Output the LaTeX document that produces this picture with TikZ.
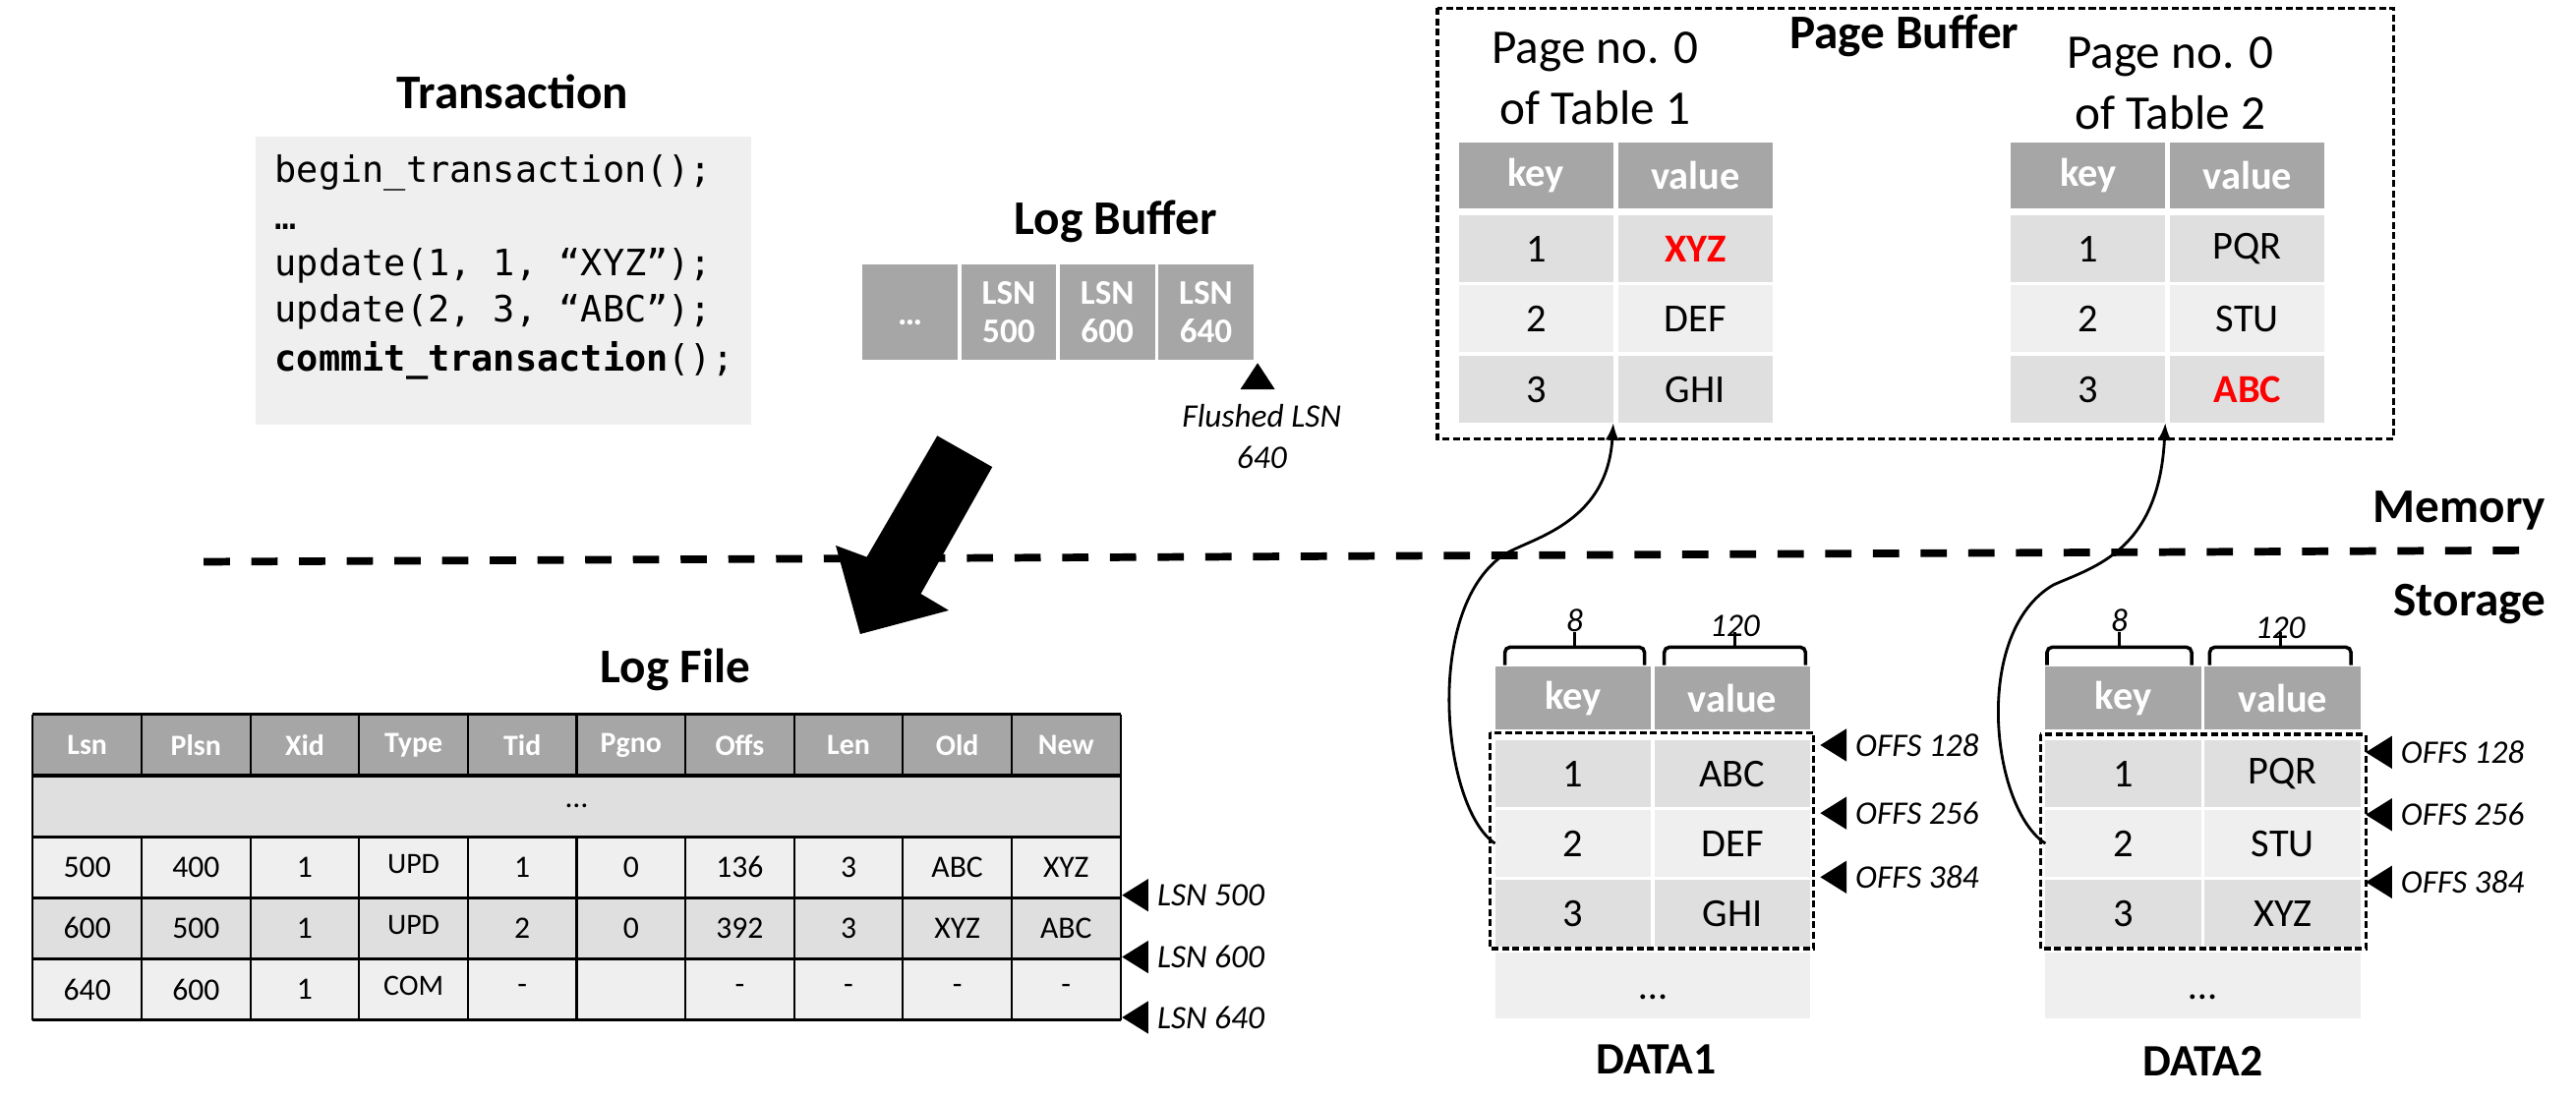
\documentclass[tikz,border=0pt]{standalone}
\usepackage{fontspec}
\setmainfont{Carlito}
\setmonofont{DejaVu Sans Mono}
\usepackage{xcolor}
\usetikzlibrary{arrows.meta}

\definecolor{hdrgray}{HTML}{A6A6A6}
\definecolor{rowdark}{HTML}{DFDFDF}
\definecolor{rowlite}{HTML}{EFEFEF}
\definecolor{hotred}{HTML}{FF0000}
\newcommand{\hotval}[1]{\textcolor{hotred}{\textbf{#1}}}
\newcommand{\typetag}[1]{\raisebox{2pt}{\fontsize{8.5}{10}\selectfont #1}}

\begin{document}
\begin{tikzpicture}[x=0.01671cm,y=-0.01671cm,
  ttl/.style={font=\bfseries\fontsize{14}{17}\selectfont},
  note/.style={inner sep=0pt,font=\itshape\fontsize{9.5}{11.9}\selectfont},
  codeline/.style={anchor=base west,inner sep=0pt,font=\ttfamily\fontsize{10.5}{12}\selectfont},
  tcell/.style={rectangle,inner sep=0pt,outer sep=0pt,font=\fontsize{11.5}{13}\selectfont},
  pgcell/.style={tcell,minimum width=1.571cm,minimum height=0.685cm},
  dtcell/.style={tcell,minimum width=1.587cm,minimum height=0.685cm},
  lgcell/.style={tcell,minimum width=1.106cm,minimum height=0.622cm,font=\fontsize{9}{11}\selectfont},
  hdr/.style={fill=hdrgray,text=white,font=\bfseries\fontsize{11.5}{13}\selectfont},
  lghdr/.style={fill=hdrgray,text=white,font=\bfseries\fontsize{8.5}{10}\selectfont},
  lbcell/.style={tcell,fill=hdrgray,text=white,minimum size=0.969cm,align=center,font=\bfseries\fontsize{10}{11}\selectfont},
  boxline/.style={line width=0.9pt,dash pattern=on 2pt off 1pt},
  link/.style={line width=0.8pt,-{Latex[length=5pt,width=4pt]}},
  ptr/.style={fill=black}]
\useasboundingbox (0,0) rectangle (1568,669);

\node[ttl] (txtitle) at (312,56) {Transaction};
\node[fill=rowlite,minimum width=5.046cm,minimum height=2.924cm,anchor=north west,inner sep=0pt] (txbox) at (155,83) {};
\node[codeline] (l1) at (167,111) {begin\_transaction();};
\node[codeline] (l2) at (167,140) {…};
\node[codeline] (l3) at (167,168) {update(1, 1, “XYZ”);};
\node[codeline] (l4) at (167,196) {update(2, 3, “ABC”);};
\node[codeline] (l5) at (167,226) {\textbf{commit\_transaction}();};

\node[ttl] (lbtitle) at (679,134.6) {Log Buffer};
\node[lbcell,text height=1.6ex,text depth=0pt] (lb0) at (554,190) {…};
\foreach \n [count=\i] in {500,600,640}
  \node[lbcell] (lb\i) at ({554+60*\i},190) {LSN\\\n};
\fill[ptr] (765.5,221) -- (776,237) -- (755,237) -- cycle;
\node[note,align=center] (flushed) at (768,265.5) {Flushed LSN\\640};

\fill (570.5,265.3) -- (604,284.3) -- (560.5,361.5) -- (577.5,371.6) -- (523.6,386) -- (508.7,332.1) -- (527.6,339.1) -- cycle;

\draw[line width=2.2pt,dash pattern=on 7.6pt off 6.2pt] (124,342) -- (1543,335);
\node[ttl,anchor=east,inner sep=0pt] (mem) at (1550,311) {Memory};
\node[ttl,anchor=east,inner sep=0pt] (sto) at (1550,368) {Storage};

\draw[boxline] (875,5) rectangle (1457,267);
\node[ttl] (pbtitle) at (1159,22) {Page Buffer};
\node[font=\fontsize{14}{17.6}\selectfont,align=center] (p1lbl) at (971,47.5) {Page no. 0\\of Table 1};
\node[font=\fontsize{14}{17.6}\selectfont,align=center] (p2lbl) at (1321,50.5) {Page no. 0\\of Table 2};
\foreach \t/\x in {1/935,2/1271} {
  \node[pgcell,hdr,minimum height=0.668cm] (p\t-k0) at (\x,107) {key};
  \node[pgcell,hdr,minimum height=0.668cm] (p\t-v0) at (\x+97,107) {value};
}
\foreach \r/\y/\f/\a/\b in {1/151.5/rowdark/{\hotval{XYZ}}/PQR, 2/194/rowlite/DEF/STU, 3/237/rowdark/GHI/{\hotval{ABC}}} {
  \node[pgcell,fill=\f] (p1-k\r) at (935,\y) {\r};
  \node[pgcell,fill=\f] (p1-v\r) at (1032,\y) {\a};
  \node[pgcell,fill=\f] (p2-k\r) at (1271,\y) {\r};
  \node[pgcell,fill=\f] (p2-v\r) at (1368,\y) {\b};
}

\foreach \t/\x in {1/957.5,2/1292.5} {
  \node[dtcell,hdr,minimum height=0.635cm] (d\t-k0) at (\x,425) {key};
  \node[dtcell,hdr,minimum height=0.635cm] (d\t-v0) at (\x+97,425) {value};
  \node[dtcell,fill=rowlite,minimum width=3.208cm,minimum height=0.668cm,text height=1.6ex,text depth=0pt] (d\t-dots) at (\x+48.5,600) {…};
}
\foreach \r/\y/\f/\a/\b in {1/471/rowdark/ABC/PQR, 2/513.5/rowlite/DEF/STU, 3/556/rowdark/GHI/XYZ} {
  \node[dtcell,fill=\f] (d1-k\r) at (957.5,\y) {\r};
  \node[dtcell,fill=\f] (d1-v\r) at (1054.5,\y) {\a};
  \node[dtcell,fill=\f] (d2-k\r) at (1292.5,\y) {\r};
  \node[dtcell,fill=\f] (d2-v\r) at (1389.5,\y) {\b};
}
\draw[boxline] (907,446) rectangle (1104,577.5);
\draw[boxline] (1242,447) rectangle (1440,577.5);
\foreach \a/\b/\w/\ly in {916/1001/8/378, 1013/1099/120/381, 1246/1334/8/378, 1345/1431/120/382} {
  \draw[line width=1pt,rounded corners=1.5pt] (\a,405) -- (\a,394) -- (\b,394) -- (\b,405);
  \draw[line width=1pt] ({(\a+\b)/2},394) -- ++(0,-9);
  \node[note] (sz\a) at ({(\a+\b)/2},\ly) {\w};
}
\foreach \x/\y/\o in {1108/453.6/128, 1108/495/256, 1108/534/384, 1440/458/128, 1440/496/256, 1440/537/384} {
  \fill[ptr] (\x,\y) -- ++(16,-10) -- ++(0,20) -- cycle;
  \node[note,anchor=west] (offs\x-\o) at (\x+21,\y) {OFFS \o};
}
\node[font=\bfseries\fontsize{13}{15}\selectfont] (data1) at (1008,645) {DATA1};
\node[font=\bfseries\fontsize{13}{15}\selectfont] (data2) at (1341,646) {DATA2};

\draw[link] (d1-k2.west) .. controls (878,492) and (866,372) .. (915,338) .. controls (930,328) and (978,320) .. (p1-k3.south east);
\draw[link] (d2-k2.west) .. controls (1212,492) and (1200,385) .. (1250,356) .. controls (1275,345) and (1314,335) .. (p2-k3.south east);

\node[ttl] (lftitle) at (411,407.8) {Log File};
\foreach \h [count=\i from 0] in {Lsn,Plsn,Xid,Type,Tid,Pgno,Offs,Len,Old,New}
  \node[lgcell,lghdr] (lf-h\i) at ({53.1+66.2*\i},453.6) {\h};
\node[lgcell,fill=rowdark,minimum width=11.06cm] (lf-dots) at (351,490.8) {…};
\foreach \y/\f/\vals [count=\j] in {528/rowlite/{500,400,1,\typetag{UPD},1,0,136,3,ABC,XYZ}, 565.2/rowdark/{600,500,1,\typetag{UPD},2,0,392,3,XYZ,ABC}, 602.4/rowlite/{640,600,1,\typetag{COM},-,,-,-,-,-}}
  \foreach \v [count=\i from 0] in \vals
    \node[lgcell,fill=\f] (lf-\j-\i) at ({53.1+66.2*\i},\y) {\v};
\foreach \y in {435,472.2,509.4,546.6,583.8,621}
  \draw[line width=0.9pt] (20,\y) -- (682,\y);
\foreach \i in {0,...,10} {
  \draw[line width=0.6pt] ({20+66.2*\i},435) -- ({20+66.2*\i},472.2);
  \draw[line width=0.6pt] ({20+66.2*\i},509.4) -- ({20+66.2*\i},621);
}
\draw[line width=0.6pt] (20,472.2) -- (20,509.4) (682,472.2) -- (682,509.4);
\foreach \n/\y in {500/545,600/582.6,640/619.4} {
  \fill[ptr] (683,\y) -- ++(16,-10) -- ++(0,20) -- cycle;
  \node[note,anchor=west] (lsn\n) at (704,\y) {LSN \n};
}
\end{tikzpicture}
\end{document}
